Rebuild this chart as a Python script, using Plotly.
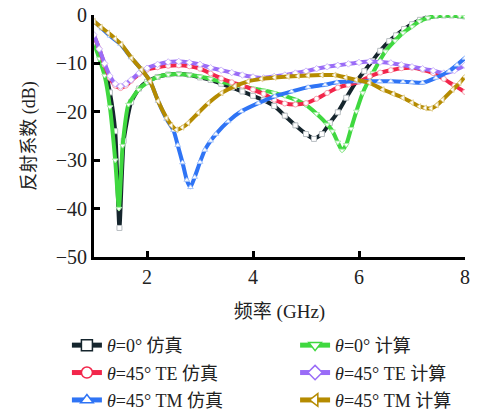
import plotly.graph_objects as go

# ---- data ----
x_sim0 = [1.0, 1.1, 1.2, 1.3, 1.4, 1.48, 1.56, 1.7, 1.85, 2.0, 2.2, 2.4, 2.6, 2.8, 3.0, 3.2, 3.4, 3.6, 3.8, 4.0,
          4.2, 4.4, 4.6, 4.8, 5.0, 5.15, 5.3, 5.45, 5.6, 5.76, 5.95, 6.1, 6.25, 6.4, 6.57, 6.7, 6.85, 7.0, 7.15,
          7.3, 7.45, 7.6, 7.75, 7.9, 8.0]
y_sim0 = [-5.4, -7.8, -11.0, -16.0, -24.0, -44.0, -26.0, -18.0, -15.2, -13.8, -12.8, -12.3, -12.2, -12.4, -12.9,
          -13.4, -14.2, -15.0, -15.8, -16.7, -17.6, -18.8, -20.8, -22.8, -24.6, -25.6, -24.6, -22.3, -20.1, -17.1,
          -13.7, -11.6, -9.5, -7.4, -5.4, -4.2, -2.9, -1.9, -1.0, -0.5, -0.2, -0.1, -0.1, -0.2, -0.3]

x_cal0 = [1.0, 1.1, 1.2, 1.3, 1.4, 1.47, 1.54, 1.65, 1.84, 2.0, 2.2, 2.4, 2.6, 2.8, 3.0, 3.2, 3.4, 3.6, 3.8, 4.0,
          4.2, 4.4, 4.6, 4.8, 5.0, 5.2, 5.4, 5.5, 5.6, 5.68, 5.76, 5.85, 5.95, 6.07, 6.26, 6.5, 6.68, 6.83, 7.0,
          7.14, 7.3, 7.45, 7.6, 7.75, 7.9, 8.0]
y_cal0 = [-5.8, -9.0, -12.5, -19.0, -30.0, -40.0, -27.0, -18.5, -15.4, -14.0, -12.8, -12.3, -12.2, -12.4, -12.7,
          -13.2, -13.8, -14.3, -14.7, -15.2, -15.6, -16.1, -16.7, -17.5, -18.6, -20.4, -22.6, -24.0, -26.3, -28.0,
          -26.8, -23.5, -19.9, -16.1, -12.0, -7.5, -5.3, -3.7, -2.4, -1.3, -0.6, -0.2, -0.1, -0.1, -0.2, -0.3]

x_te_sim = [1.0, 1.1, 1.2, 1.3, 1.4, 1.5, 1.6, 1.7, 1.85, 2.0, 2.2, 2.4, 2.6, 2.8, 3.0, 3.2, 3.4, 3.6, 3.8, 4.0,
            4.2, 4.4, 4.6, 4.8, 5.0, 5.2, 5.4, 5.6, 5.8, 6.0, 6.2, 6.4, 6.6, 6.8, 7.0, 7.2, 7.4, 7.6, 7.8, 8.0]
y_te_sim = [-4.3, -7.0, -10.3, -13.0, -14.6, -15.1, -14.6, -13.6, -12.2, -11.3, -10.8, -10.5, -10.4, -10.6, -11.1,
            -12.1, -13.1, -13.9, -14.6, -15.4, -16.3, -17.5, -18.3, -18.5, -18.2, -17.3, -16.1, -15.0, -14.4, -13.8,
            -12.7, -11.9, -11.4, -11.0, -10.9, -11.3, -12.0, -13.2, -14.6, -15.9]

x_te_cal = [1.0, 1.1, 1.2, 1.3, 1.4, 1.5, 1.6, 1.7, 1.85, 2.0, 2.2, 2.4, 2.6, 2.8, 3.0, 3.2, 3.4, 3.6, 3.8, 4.0,
            4.2, 4.4, 4.6, 4.8, 5.0, 5.2, 5.4, 5.6, 5.8, 6.0, 6.2, 6.4, 6.6, 6.8, 7.0, 7.2, 7.4, 7.6, 7.8, 8.0]
y_te_cal = [-4.1, -7.0, -10.0, -12.6, -14.2, -14.7, -14.2, -13.4, -12.0, -11.0, -10.2, -9.7, -9.6, -9.8, -10.2,
            -10.9, -11.4, -11.9, -12.4, -12.8, -13.0, -12.7, -12.4, -12.0, -11.6, -11.1, -10.7, -10.4, -10.1, -9.8,
            -9.6, -9.7, -9.9, -10.3, -10.7, -11.1, -11.5, -12.0, -11.5, -10.4]

x_tm_sim = [1.0, 1.15, 1.3, 1.5, 1.7, 1.9, 2.06, 2.21, 2.37, 2.5, 2.58, 2.67, 2.75, 2.82, 2.9, 3.0, 3.09, 3.2, 3.3,
            3.53, 3.78, 4.1, 4.41, 4.73, 5.04, 5.36, 5.58, 5.95, 6.2, 6.39, 6.6, 6.83, 7.0, 7.2, 7.45, 7.7, 7.85, 8.0]
y_tm_sim = [-1.3, -2.8, -4.3, -6.0, -8.8, -11.3, -13.7, -17.8, -21.5, -23.8, -26.9, -30.5, -34.1, -35.6, -33.5,
            -30.4, -27.9, -26.0, -24.6, -22.0, -19.9, -18.2, -16.8, -15.8, -14.9, -14.4, -13.9, -13.7, -13.7, -13.7,
            -13.7, -13.8, -13.9, -14.0, -13.0, -11.6, -10.3, -8.9]

x_tm_cal = [1.0, 1.13, 1.27, 1.4, 1.52, 1.71, 1.9, 2.06, 2.21, 2.37, 2.46, 2.56, 2.67, 2.78, 2.97, 3.16, 3.41,
            3.66, 3.91, 4.16, 4.41, 4.66, 4.85, 5.04, 5.3, 5.54, 5.75, 5.95, 6.2, 6.45, 6.65, 6.83, 7.0, 7.14, 7.25,
            7.36, 7.47, 7.58, 7.77, 7.9, 8.0]
y_tm_cal = [-1.3, -2.5, -3.7, -4.9, -6.1, -8.9, -11.3, -13.7, -17.8, -21.3, -22.8, -23.7, -23.2, -22.3, -20.2,
            -18.2, -16.1, -14.7, -13.7, -13.2, -12.9, -12.7, -12.6, -12.5, -12.4, -12.4, -12.9, -13.4, -14.0, -15.4,
            -16.3, -17.1, -18.1, -18.9, -19.2, -19.3, -18.6, -17.5, -15.4, -14.0, -12.7]

names = ["<i>θ</i>=0° 仿真", "<i>θ</i>=0° 计算",
         "<i>θ</i>=45° TE 仿真", "<i>θ</i>=45° TE 计算",
         "<i>θ</i>=45° TM 仿真", "<i>θ</i>=45° TM 计算"]

x_ticks = [2, 4, 6, 8]
y_ticks = [0, -10, -20, -30, -40, -50]

series = [
    (x_sim0, y_sim0, "#15252d", "square", "#b8bec2", "legend"),
    (x_cal0, y_cal0, "#3fd83f", "triangle-down", "#a8eca8", "legend2"),
    (x_te_sim, y_te_sim, "#f2264b", "circle", "#f7a0b0", "legend"),
    (x_te_cal, y_te_cal, "#9a6cf7", "diamond", "#cdb8fb", "legend2"),
    (x_tm_sim, y_tm_sim, "#2f74f5", "triangle-up", "#a8c6fb", "legend"),
    (x_tm_cal, y_tm_cal, "#b58b00", "triangle-left", "#e2cf90", "legend2"),
]

FONT = "Liberation Serif, Noto Sans CJK SC, serif"

fig = go.Figure()
for (xs, ys, col, sym, mcol, lg), nm in zip(series, names):
    fig.add_trace(go.Scatter(
        x=xs, y=ys, mode="lines+markers", name=nm, showlegend=False,
        line=dict(color=col, width=4, shape="spline", smoothing=0.5),
        marker=dict(symbol=sym, size=5, color="white", line=dict(color=mcol, width=1)),
    ))
for i, ((xs, ys, col, sym, mcol, lg), nm) in enumerate(zip(series, names)):
    fig.add_trace(go.Scatter(
        x=[None], y=[None], mode="lines+markers", name=nm, showlegend=True,
        legend=lg, legendgroup="g%d" % i,
        line=dict(color=col, width=5),
        marker=dict(symbol=sym, size=11, color="white", line=dict(color=col, width=1.5)),
    ))

leg_common = dict(orientation="v", yanchor="top", xanchor="left",
                  font=dict(size=18), tracegroupgap=1, itemwidth=30, bgcolor="rgba(0,0,0,0)")

fig.update_layout(
    width=486, height=414, autosize=False,
    margin=dict(l=94, r=21, t=15, b=157, autoexpand=False),
    paper_bgcolor="white", plot_bgcolor="white",
    font=dict(family=FONT, size=18, color="#222"),
    xaxis=dict(range=[1, 8], tickvals=x_ticks, ticks="inside", ticklen=6, tickwidth=3,
               tickcolor="black", showline=True, linecolor="black", linewidth=3,
               showgrid=False, zeroline=False, mirror=False,
               title=dict(text="频率 (GHz)", font=dict(size=19), standoff=18),
               tickfont=dict(size=20)),
    yaxis=dict(range=[-50, 0], tickvals=y_ticks, ticks="inside", ticklen=6, tickwidth=3,
               tickcolor="black", showline=True, linecolor="black", linewidth=3,
               showgrid=False, zeroline=False, mirror=False,
               title=dict(text="反射系数 (dB)", font=dict(size=18), standoff=16),
               tickfont=dict(size=20)),
    legend=dict(x=-0.073, y=-0.289, **leg_common),
    legend2=dict(x=0.542, y=-0.289, **leg_common),
)

fig.write_html("out.html", config={"displayModeBar": False},
               post_script="document.body.style.margin='0';")
